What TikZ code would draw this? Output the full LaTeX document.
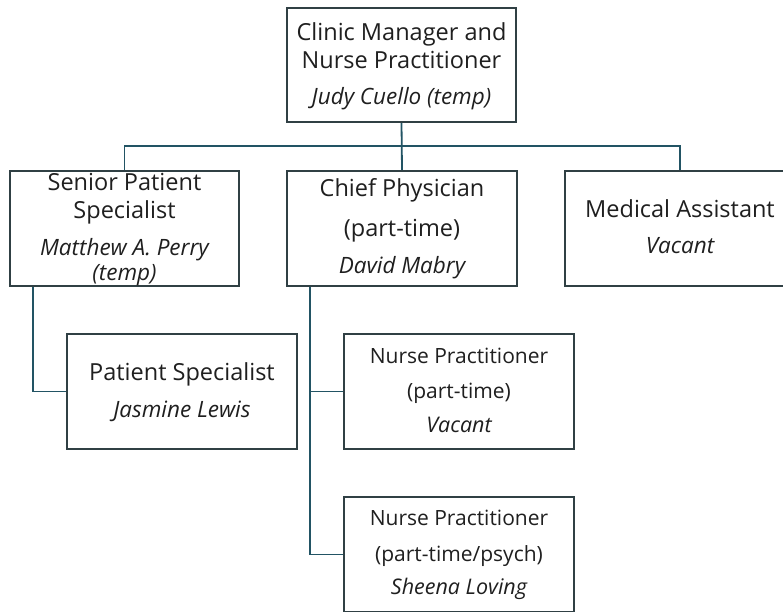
\documentclass[tikz,border=0pt]{standalone}
\usepackage{fontspec}
\setmainfont{Open Sans}
\definecolor{boxline}{RGB}{48,64,68}
\definecolor{connline}{RGB}{34,84,100}
\begin{document}
\begin{tikzpicture}[x=1pt,y=-1pt,
  box/.style={draw=boxline,line width=2pt,rectangle,inner sep=0pt,fill=white},
  conn/.style={draw=connline,line width=1.8pt},
  ttl/.style={anchor=base,inner sep=0pt,text=black!88,font=\fontsize{23.5}{26}\selectfont},
  ttls/.style={anchor=base,inner sep=0pt,text=black!88,font=\fontsize{21}{24}\selectfont},
  nm/.style={anchor=base,inner sep=0pt,text=black!88,font=\fontsize{22.5}{25}\selectfont\itshape},
  nms/.style={anchor=base,inner sep=0pt,text=black!88,font=\fontsize{21.5}{24}\selectfont\itshape}]
\useasboundingbox (0,0) rectangle (783,611);
\fill[white] (0,0) rectangle (783,611);
% boxes
\node[box,minimum width=229pt,minimum height=114pt] (top) at (401.5,65) {};
\node[box,minimum width=229pt,minimum height=115pt] (senior) at (124.5,228.5) {};
\node[box,minimum width=230pt,minimum height=115pt] (chief) at (402,228.5) {};
\node[box,minimum width=230pt,minimum height=115pt] (med) at (680,228.5) {};
\node[box,minimum width=230pt,minimum height=115pt] (pat) at (182,391.5) {};
\node[box,minimum width=230pt,minimum height=115pt] (np1) at (459,391.5) {};
\node[box,minimum width=230pt,minimum height=115pt] (np2) at (459,554.5) {};
% connector helpers
\coordinate (bus) at (0,146);
\coordinate (sx) at (33,0);
\coordinate (cx) at (310,0);
\draw[conn] (top.south) -- (chief.north);
\draw[conn] (senior.north) -- (senior.north |- bus) -- (med.north |- bus) -- (med.north);
\draw[conn] (senior.south -| sx) |- (pat.west);
\draw[conn] (chief.south -| cx) |- (np2.west);
\draw[conn] (cx |- np1.west) -- (np1.west);
% texts
\node[ttl] (t1) at (401.5,40) {Clinic Manager and};
\node[ttl] (t2) at (401.5,68) {Nurse Practitioner};
\node[nm] (t3) at (401.5,104) {Judy Cuello (temp)};
\node[ttl] (s1) at (124.5,190) {Senior Patient};
\node[ttl] (s2) at (124.5,218) {Specialist};
\node[nm] (s3) at (124.5,255) {Matthew A. Perry};
\node[nm] (s4) at (124.5,280) {(temp)};
\node[ttl] (c1) at (402,196) {Chief Physician};
\node[ttl] (c2) at (402,236) {(part-time)};
\node[nm] (c3) at (402,273) {David Mabry};
\node[ttl] (m1) at (680,217) {Medical Assistant};
\node[nm] (m2) at (680,253) {Vacant};
\node[ttl] (p1) at (182,380) {Patient Specialist};
\node[nm] (p2) at (182,417) {Jasmine Lewis};
\node[ttls] (n1) at (459,363) {Nurse Practitioner};
\node[ttls] (n2) at (459,398) {(part-time)};
\node[nms] (n3) at (459,432) {Vacant};
\node[ttls] (q1) at (459,525) {Nurse Practitioner};
\node[ttls] (q2) at (459,561) {(part-time/psych)};
\node[nms] (q3) at (459,594) {Sheena Loving};
\end{tikzpicture}
\end{document}
